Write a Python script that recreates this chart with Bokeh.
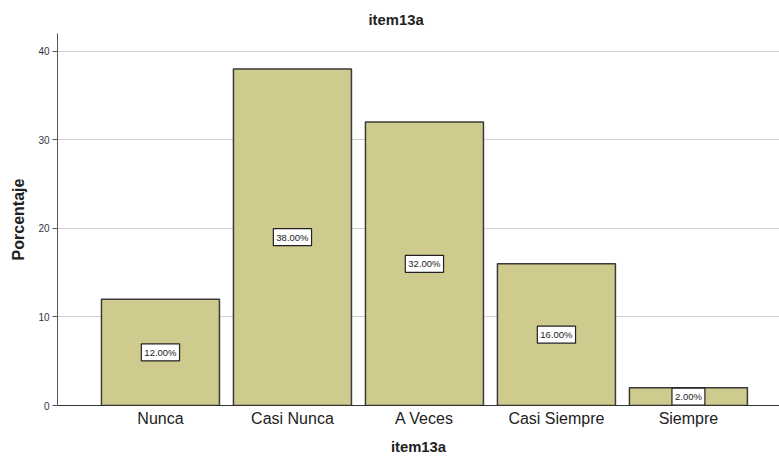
from bokeh.plotting import figure
from bokeh.models import ColumnDataSource, Label, Range1d, FixedTicker
from bokeh.embed import file_html
from bokeh.resources import INLINE

categories = ["Nunca", "Casi Nunca", "A Veces", "Casi Siempre", "Siempre"]
percentages = [12.0, 38.0, 32.0, 16.0, 2.0]
label_texts = ["12.00%", "38.00%", "32.00%", "16.00%", "2.00%"]
y_ticks = [0, 10, 20, 30, 40]

xs = list(range(len(categories)))
src = ColumnDataSource(dict(x=xs, top=percentages))

p = figure(width=779, height=457, output_backend="svg", toolbar_location=None,
           x_range=Range1d(-0.78, 4.69), y_range=Range1d(0, 42),
           min_border_left=57, min_border_right=0, min_border_top=33,
           min_border_bottom=52, title="item13a")

p.title.align = "left"
p.title.offset = 311
p.title.text_font = "Liberation Sans"
p.title.text_font_size = "14.8px"
p.title.text_font_style = "bold"
p.title.text_color = "#212121"
p.title.standoff = 12

p.vbar(x="x", top="top", width=0.894, source=src, fill_color="#CFCA8E",
       line_color="#3a3a3a", line_width=1.5)

for xi, v, t in zip(xs, percentages, label_texts):
    p.add_layout(Label(x=xi, y=v / 2, text=t, text_align="center",
                       text_baseline="middle", text_font_size="9.5px",
                       text_font="Liberation Sans", text_color="#222222",
                       background_fill_color="white",
                       border_line_color="#222222", border_line_width=1.2,
                       padding=3))

p.outline_line_color = None
p.xgrid.grid_line_color = None
p.ygrid.grid_line_color = "#cfcfcf"
p.ygrid.grid_line_width = 1

p.xaxis.ticker = FixedTicker(ticks=xs)
p.xaxis.major_label_overrides = {i: c for i, c in enumerate(categories)}
p.xaxis.major_tick_line_color = None
p.xaxis.major_tick_out = 0
p.xaxis.major_tick_in = 0
p.xaxis.minor_tick_line_color = None
p.xaxis.axis_line_color = "#333333"
p.xaxis.major_label_text_font = "Liberation Sans"
p.xaxis.major_label_text_font_size = "16px"
p.xaxis.major_label_text_color = "#222222"
p.xaxis.major_label_standoff = 4
p.xaxis.axis_label = "item13a"
p.xaxis.axis_label_text_font = "Liberation Sans"
p.xaxis.axis_label_text_font_size = "14.8px"
p.xaxis.axis_label_text_font_style = "bold"
p.xaxis.axis_label_text_color = "#212121"
p.xaxis.axis_label_standoff = 9

p.yaxis.ticker = FixedTicker(ticks=y_ticks)
p.yaxis.minor_tick_line_color = None
p.yaxis.major_tick_out = 5
p.yaxis.major_tick_in = 0
p.yaxis.major_tick_line_color = "#555555"
p.yaxis.axis_line_color = "#555555"
p.yaxis.major_label_text_font = "Liberation Sans"
p.yaxis.major_label_text_font_size = "10px"
p.yaxis.major_label_text_color = "#333344"
p.yaxis.major_label_standoff = 3
p.yaxis.axis_label = "Porcentaje"
p.yaxis.axis_label_text_font = "Liberation Sans"
p.yaxis.axis_label_text_font_size = "16px"
p.yaxis.axis_label_text_font_style = "bold"
p.yaxis.axis_label_text_color = "#212121"
p.yaxis.axis_label_standoff = 8

open("out.html", "w").write(file_html(p, INLINE))
